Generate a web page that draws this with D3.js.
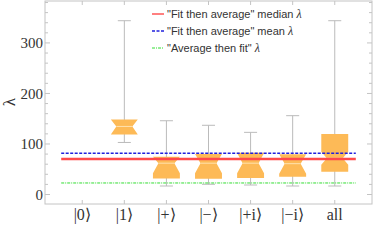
<!DOCTYPE html>
<html>
<head>
<meta charset="utf-8">
<script src="https://cdn.jsdelivr.net/npm/d3@7"></script>
<style>
  body { margin: 0; background: #fff; }
</style>
</head>
<body>
<div id="chart"></div>
<script>
// Data
const categories = ['|0\u27E9', '|1\u27E9', '|+\u27E9', '|\u2212\u27E9', '|+i\u27E9', '|\u2212i\u27E9', 'all'];
// box statistics per category (|0> has no box)
const whiskerLow  = [null, 103, 16.8, 20.2, 18.8, 16.8, 16.8];
const q1          = [null, 118.8, 31.7, 31.3, 32.7, 35.3, 45];
const median      = [null, 134.7, 62, 62, 62, 61, 71.7];
const q3          = [null, 148.5, 74.9, 80.2, 82.8, 79.6, 119.8];
const whiskerHigh = [null, 344, 146, 137, 123, 156, 344];
const notchHalf   = [null, 16, 20, 20, 20, 20, 13];

const medianLambda = 70.3;
const meanLambda = 81.6;
const averageFitLambda = 22.8;

const yMajorTicks = [0, 100, 200, 300];
const yMinorTicks = d3.range(0, 381, 20);
const legendLabels = ['"Fit then average" median ', '"Fit then average" mean ', '"Average then fit" '];

// Dimensions
const dimensions = {
  width: 374,
  height: 243,
  left: 45,
  right: 372,
  top: 1,
  bottom: 204
};

const serif = "'Liberation Serif', 'Times New Roman', serif";

const svg = d3.select('#chart')
  .append('svg')
  .attr('width', dimensions.width)
  .attr('height', dimensions.height);

// Scales
const xScale = d3.scalePoint()
  .domain(categories)
  .range([dimensions.left, dimensions.right])
  .padding(0.885);
const step = xScale.step();

const yScale = d3.scaleLinear()
  .domain([-18.8, 383])
  .range([dimensions.bottom, dimensions.top]);

const frameColor = '#c4c4c4';

// Frame
svg.append('rect')
  .attr('x', dimensions.left)
  .attr('y', dimensions.top)
  .attr('width', dimensions.right - dimensions.left)
  .attr('height', dimensions.bottom - dimensions.top)
  .attr('fill', 'none')
  .attr('stroke', frameColor);

// y ticks (left and right, inward)
const yTicks = svg.append('g');
yMinorTicks.forEach((v) => {
  const len = yMajorTicks.includes(v) ? 5 : 3;
  yTicks.append('line')
    .attr('x1', dimensions.left).attr('x2', dimensions.left + len)
    .attr('y1', yScale(v)).attr('y2', yScale(v))
    .attr('stroke', frameColor);
  yTicks.append('line')
    .attr('x1', dimensions.right).attr('x2', dimensions.right - len)
    .attr('y1', yScale(v)).attr('y2', yScale(v))
    .attr('stroke', frameColor);
});

yTicks.selectAll('text')
  .data(yMajorTicks)
  .join('text')
  .attr('x', dimensions.left - 2)
  .attr('y', (d) => yScale(d))
  .attr('dy', '0.35em')
  .attr('text-anchor', 'end')
  .attr('font-family', serif)
  .attr('font-size', 15)
  .attr('fill', '#333')
  .text((d) => d);

// x ticks (bottom and top, inward)
const xTicks = svg.append('g');
categories.forEach((c) => {
  xTicks.append('line')
    .attr('x1', xScale(c)).attr('x2', xScale(c))
    .attr('y1', dimensions.bottom).attr('y2', dimensions.bottom - 4)
    .attr('stroke', frameColor);
  xTicks.append('line')
    .attr('x1', xScale(c)).attr('x2', xScale(c))
    .attr('y1', dimensions.top).attr('y2', dimensions.top + 4)
    .attr('stroke', frameColor);
});

xTicks.selectAll('text')
  .data(categories)
  .join('text')
  .attr('x', (d) => xScale(d))
  .attr('y', 220)
  .attr('text-anchor', 'middle')
  .attr('font-family', serif)
  .attr('font-size', 16)
  .attr('fill', '#333')
  .text((d) => d);

// Axis label
svg.append('text')
  .attr('transform', 'translate(9,102) rotate(-90)')
  .attr('text-anchor', 'middle')
  .attr('dy', '0.35em')
  .attr('font-family', serif)
  .attr('font-size', 17)
  .attr('fill', '#333')
  .text('\u03BB');

// Boxes
const boxes = svg.append('g');
const boxW = step * 0.64;
const neckW = step * 0.38;
const capW = step * 0.31;

categories.forEach((c, i) => {
  if (median[i] === null) return;
  const cx = xScale(c);

  boxes.append('line')
    .attr('x1', cx).attr('x2', cx)
    .attr('y1', yScale(whiskerLow[i])).attr('y2', yScale(whiskerHigh[i]))
    .attr('stroke', '#bbb');
  [whiskerLow[i], whiskerHigh[i]].forEach((v) => {
    boxes.append('line')
      .attr('x1', cx - capW / 2).attr('x2', cx + capW / 2)
      .attr('y1', yScale(v)).attr('y2', yScale(v))
      .attr('stroke', '#bbb');
  });

  const nt = Math.min(median[i] + notchHalf[i], q3[i]);
  const nb = Math.max(median[i] - notchHalf[i], q1[i]);
  const l = cx - boxW / 2, r = cx + boxW / 2;
  const nl = cx - neckW / 2, nr = cx + neckW / 2;
  const pts = [
    [l, yScale(q3[i])], [l, yScale(nt)], [nl, yScale(median[i])], [l, yScale(nb)], [l, yScale(q1[i])],
    [r, yScale(q1[i])], [r, yScale(nb)], [nr, yScale(median[i])], [r, yScale(nt)], [r, yScale(q3[i])]
  ];
  boxes.append('path')
    .attr('d', d3.line()(pts) + 'Z')
    .attr('fill', '#fdba57');
  boxes.append('line')
    .attr('x1', nl).attr('x2', nr)
    .attr('y1', yScale(median[i])).attr('y2', yScale(median[i]))
    .attr('stroke', '#ffe2b0')
    .attr('stroke-width', 1);
});

// Reference lines
const lineX1 = xScale(categories[0]) - step * 0.5;
const lineX2 = xScale(categories[categories.length - 1]) + step * 0.5;
const refStyles = [
  { value: medianLambda, color: '#ff4a4a', width: 2.5, dash: null },
  { value: meanLambda, color: '#2020dd', width: 1.4, dash: '3,1.5' },
  { value: averageFitLambda, color: '#33dd33', width: 1, dash: '3,1,1,1' }
];

refStyles.forEach((s) => {
  svg.append('line')
    .attr('x1', lineX1).attr('x2', lineX2)
    .attr('y1', yScale(s.value)).attr('y2', yScale(s.value))
    .attr('stroke', s.color)
    .attr('stroke-width', s.width)
    .attr('stroke-dasharray', s.dash);
});

// Legend
const legend = svg.append('g');
refStyles.forEach((s, i) => {
  const y = 14 + i * 17;
  legend.append('line')
    .attr('x1', 152).attr('x2', 164)
    .attr('y1', y).attr('y2', y)
    .attr('stroke', s.color)
    .attr('stroke-width', Math.min(s.width, 1.4))
    .attr('stroke-dasharray', s.dash);
  const t = legend.append('text')
    .attr('x', 167)
    .attr('y', y)
    .attr('dy', '0.35em')
    .attr('font-family', "'Liberation Sans', Arial, sans-serif")
    .attr('font-size', 11)
    .attr('fill', '#333');
  t.append('tspan').text(legendLabels[i]);
  t.append('tspan')
    .attr('font-family', serif)
    .attr('font-style', 'italic')
    .attr('font-size', 12)
    .text('\u03BB');
});
</script>
</body>
</html>
